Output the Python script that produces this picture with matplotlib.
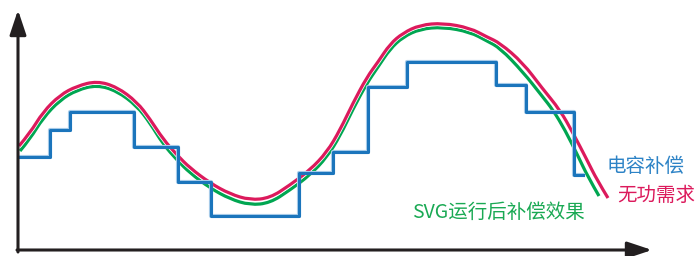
import matplotlib
matplotlib.use("Agg")
import matplotlib.pyplot as plt
import matplotlib.patheffects as pe
from matplotlib.path import Path
from matplotlib.patches import PathPatch

plt.rcParams["font.family"] = ["Noto Sans CJK SC", "DejaVu Sans"]

# reactive power demand (red)
demand_t = [1, 12, 25, 42, 59, 79, 99, 119, 132, 145, 159, 172, 192, 212, 232, 252, 272, 292,
            309, 322, 335, 349, 360, 372, 385, 402, 425, 452, 469, 482, 505, 524, 542, 555,
            569, 579, 590]
demand_q = [104, 117, 138, 155, 164, 169, 163, 148, 131, 111, 95, 82, 67, 56, 50, 52, 65, 80,
            98, 120, 147, 173, 188, 206, 217, 225, 227, 222, 213, 207, 187, 162, 140, 117,
            90, 70, 52]

# after SVG compensation (green)
svg_t = [2, 12, 25, 42, 59, 79, 99, 119, 132, 145, 159, 172, 192, 212, 232, 252, 272, 292,
         309, 322, 335, 349, 360, 372, 385, 402, 425, 452, 469, 482, 505, 524, 535, 547,
         560, 570, 581]
svg_q = [99, 111, 132, 150, 160, 165, 159, 144, 127, 106, 90, 77, 62, 51, 45, 47, 60, 75,
         93, 114, 141, 167, 183, 201, 213, 221, 223, 218, 209, 202, 178, 154, 140, 120,
         94, 73, 54]

# capacitor bank steps (blue)
cap_t = [2, 32, 52, 116, 160, 193, 281, 315, 350, 389, 478, 508, 556, 565]
cap_q = [93, 120, 138, 103, 68, 34, 77, 98, 163, 188, 165, 138, 75, 75]

BLUE = "#1b75bc"
RED = "#dc1a5c"
GREEN = "#00a651"


def smooth_path(xs, ys):
    # quadratic bezier through the midpoints, the read points act as controls
    pts = list(zip(xs, ys))
    verts = [pts[0]]
    codes = [Path.MOVETO]
    for i in range(1, len(pts) - 1):
        mid = ((pts[i][0] + pts[i + 1][0]) / 2, (pts[i][1] + pts[i + 1][1]) / 2)
        if i == len(pts) - 2:
            mid = pts[-1]
        verts += [pts[i], mid]
        codes += [Path.CURVE3, Path.CURVE3]
    return Path(verts, codes)


fig = plt.figure(figsize=(7, 2.56), dpi=100)
ax = fig.add_axes([0, 0, 1, 1])
ax.set_xlim(-18, 682)
ax.set_ylim(-6, 250)
ax.axis("off")

halo = [pe.Stroke(linewidth=3.4, foreground="white"), pe.Normal()]

ax.add_patch(PathPatch(smooth_path(svg_t, svg_q), fill=False, edgecolor=GREEN, lw=2.3,
                       capstyle="butt", path_effects=halo, zorder=3))
ax.add_patch(PathPatch(smooth_path(demand_t, demand_q), fill=False, edgecolor=RED, lw=2.3,
                       capstyle="butt", path_effects=halo, zorder=4))
ax.step(cap_t, cap_q, where="post", color=BLUE, lw=2.2,
        path_effects=[pe.Stroke(linewidth=3.0, foreground="#a9cdea"), pe.Normal()],
        zorder=5)

# axes with arrows
arrow = dict(arrowstyle="-|>,head_length=1.5,head_width=0.5", color="#231f20",
             lw=2.2, shrinkA=0, shrinkB=0)
ax.annotate("", xy=(0, 240), xytext=(0, -2), arrowprops=arrow, zorder=6)
ax.annotate("", xy=(634, 0), xytext=(-1, 0), arrowprops=arrow, zorder=6)

ax.text(589, 83, "电容补偿", color="#2d83c6", fontsize=14, va="center", ha="left")
ax.text(599, 55, "无功需求", color=RED, fontsize=14, va="center", ha="left")
ax.text(394, 38, "SVG运行后补偿效果", color="#1aa954", fontsize=14, va="center", ha="left")

fig.savefig("out.png", dpi=100)
